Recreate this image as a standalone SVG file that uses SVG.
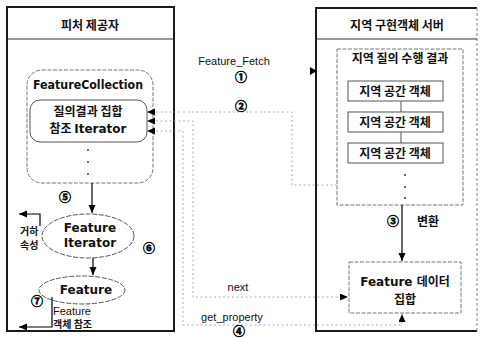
<svg xmlns="http://www.w3.org/2000/svg" width="480" height="338" viewBox="0 0 480 338">
  <defs>
    <marker id="arrow" markerWidth="9" markerHeight="8" refX="8" refY="3.5" orient="auto-start-reverse" markerUnits="userSpaceOnUse">
      <path d="M0,0 L8,3.5 L0,7 z" fill="#000"/>
    </marker>
    <style>
      .frame { fill: #fff; stroke: #1a1a1a; stroke-width: 2; }
      .frame-edge { fill: none; stroke: #9a9a9a; stroke-width: 1.2; stroke-dasharray: 3 2; }
      .divider { stroke: #333; stroke-width: 1.2; }
      .soft { fill: none; stroke: #777; stroke-width: 1; stroke-dasharray: 4 1.5; }
      .box { fill: none; stroke: #555; stroke-width: 1; }
      .ell { fill: #fff; stroke: #555; stroke-width: 1; stroke-dasharray: 5 1.5; }
      .flow { fill: none; stroke: #000; stroke-width: 1.2; }
      .dot { fill: none; stroke: #b0b0b0; stroke-width: 1; stroke-dasharray: 2 2.5; }
      .ko { font-family: "Noto Sans CJK KR", "Noto Sans", sans-serif; font-weight: 700; font-size: 12px; fill: #111; }
      .ko-s { font-family: "Noto Sans CJK KR", "Noto Sans", sans-serif; font-weight: 700; font-size: 10px; fill: #111; }
      .lat-b { font-family: "DejaVu Sans", "Liberation Sans", sans-serif; font-weight: 700; font-size: 12px; fill: #111; }
      .lat { font-family: "Liberation Sans", Arial, sans-serif; font-size: 11px; fill: #111; }
      .num { font-family: "Noto Sans CJK KR", sans-serif; font-weight: 700; font-size: 12px; fill: #000; stroke: #000; stroke-width: 0.5; }
    </style>
  </defs>

  <rect width="480" height="338" fill="#fff"/>

  <!-- feature provider frame -->
  <g id="provider">
    <rect class="frame" x="7" y="7" width="167" height="324"/>
    <line class="divider" x1="7" y1="39" x2="174" y2="39"/>
    <text class="ko" x="90" y="30" text-anchor="middle">피처 제공자</text>
  </g>

  <!-- local implementation server frame -->
  <g id="server">
    <path class="frame" d="M477,8 H316 V331 H477"/>
    <line class="frame-edge" x1="477" y1="8" x2="477" y2="331"/>
    <line class="divider" x1="316" y1="39" x2="477" y2="39"/>
    <text class="ko" x="397" y="30" text-anchor="middle">지역 구현객체 서버</text>
  </g>

  <g id="feature-collection">
    <rect class="soft" x="27" y="70" width="126" height="113" rx="15"/>
    <text class="lat-b" x="33" y="89" textLength="110" lengthAdjust="spacingAndGlyphs">FeatureCollection</text>
    <g fill="#222">
      <circle cx="88" cy="150" r="0.9"/>
      <circle cx="88" cy="162" r="0.9"/>
      <circle cx="88" cy="174" r="0.9"/>
    </g>
  </g>

  <g id="query-iterator">
    <rect class="box" x="30" y="100" width="117" height="42" rx="10"/>
    <text class="ko" x="88" y="116" text-anchor="middle">질의결과 집합</text>
    <text x="88" y="133" text-anchor="middle"><tspan class="ko">참조 </tspan><tspan class="lat-b">Iterator</tspan></text>
  </g>

  <g id="feature-iterator">
    <ellipse class="ell" cx="88" cy="236" rx="46" ry="22"/>
    <text class="lat-b" x="90" y="232" text-anchor="middle">Feature</text>
    <text class="lat-b" x="90" y="247" text-anchor="middle">Iterator</text>
  </g>

  <g id="feature">
    <ellipse class="ell" cx="82" cy="290" rx="43" ry="14"/>
    <text class="lat-b" x="86" y="294" text-anchor="middle" font-size="13">Feature</text>
  </g>

  <g id="geometry-attr">
    <text class="ko-s" x="20" y="235">거하</text>
    <text class="ko-s" x="20" y="249">속성</text>
  </g>

  <g id="object-ref">
    <text class="lat" x="53" y="315" font-size="10">Feature</text>
    <text class="ko-s" x="53" y="328">객체 참조</text>
  </g>

  <g id="local-result">
    <rect class="soft" x="337" y="49" width="126" height="156"/>
    <text class="ko" x="400" y="63" text-anchor="middle">지역 질의 수행 결과</text>
    <g fill="#222">
      <circle cx="405" cy="175" r="0.9"/>
      <circle cx="405" cy="187" r="0.9"/>
      <circle cx="405" cy="198" r="0.9"/>
    </g>
  </g>

  <g id="local-object-1">
    <rect class="box" x="348" y="81" width="95" height="20"/>
    <text class="ko" x="395" y="96" text-anchor="middle">지역 공간 객체</text>
  </g>
  <g id="local-object-2">
    <rect class="box" x="348" y="112" width="95" height="20"/>
    <text class="ko" x="395" y="127" text-anchor="middle">지역 공간 객체</text>
  </g>
  <g id="local-object-3">
    <rect class="box" x="348" y="143" width="95" height="20"/>
    <text class="ko" x="395" y="158" text-anchor="middle">지역 공간 객체</text>
  </g>

  <g id="feature-dataset">
    <rect class="soft" x="349" y="262" width="112" height="51"/>
    <text x="405" y="286" text-anchor="middle"><tspan class="lat-b" font-size="13">Feature </tspan><tspan class="ko" font-weight="400">데이터</tspan></text>
    <text class="ko" x="405" y="304" text-anchor="middle" font-weight="400">집합</text>
  </g>

  <!-- connectors -->
  <g id="connectors">
    <!-- object chain -->
    <line class="box" x1="401" y1="101" x2="401" y2="112"/>
    <line class="box" x1="401" y1="132" x2="401" y2="143"/>
    <!-- conversion -->
    <path class="flow" d="M402,205 V261" marker-end="url(#arrow)"/>
    <!-- collection to iterator -->
    <path class="flow" d="M92,183 V213" marker-end="url(#arrow)"/>
    <!-- iterator to feature -->
    <path class="flow" d="M93,258 V275" marker-end="url(#arrow)"/>
    <!-- geometry attribute -->
    <path class="flow" d="M40,226 V214 H19" marker-end="url(#arrow)"/>
    <!-- object reference -->
    <path class="flow" d="M52,297 V327 H19" marker-end="url(#arrow)"/>
    <!-- Feature_Fetch into server -->
    <path d="M310,67 L317,71 L310,75 z" fill="#000"/>
    <!-- result handed back -->
    <path class="dot" d="M337,185 H292 V112 H147" marker-end="url(#arrow)"/>
    <!-- next -->
    <path class="dot" d="M147,121 H193 V297 H348" marker-start="url(#arrow)" marker-end="url(#arrow)"/>
    <!-- get_property -->
    <path class="dot" d="M147,131 H183 V325 H402 V314" marker-start="url(#arrow)" marker-end="url(#arrow)"/>
  </g>

  <!-- connector labels -->
  <g id="labels">
    <text class="lat" x="234" y="65" text-anchor="middle">Feature_Fetch</text>
    <text class="num" x="241" y="82" text-anchor="middle">①</text>
    <text class="num" x="241" y="111" text-anchor="middle">②</text>
    <text class="num" x="393" y="226" text-anchor="middle">③</text>
    <text class="ko" x="428" y="226" text-anchor="middle" font-weight="400">변환</text>
    <text class="num" x="239" y="336" text-anchor="middle" font-size="11">④</text>
    <text class="num" x="65" y="202" text-anchor="middle">⑤</text>
    <text class="num" x="149" y="253" text-anchor="middle">⑥</text>
    <text class="num" x="37" y="306" text-anchor="middle">⑦</text>
    <text class="lat" x="238" y="291" text-anchor="middle">next</text>
    <text class="lat" x="232" y="321" text-anchor="middle">get_property</text>
  </g>
</svg>
